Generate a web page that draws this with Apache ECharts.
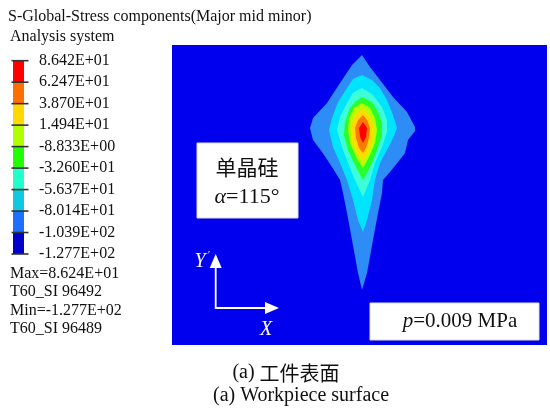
<!DOCTYPE html>
<html><head><meta charset="utf-8">
<script src="https://cdn.jsdelivr.net/npm/echarts@6/dist/echarts.min.js"></script>
<style>html,body{margin:0;padding:0;background:#fff}#c{width:550px;height:414px}</style>
</head><body><div id="c"></div>
<script>
// Legend tick labels (top to bottom)
const tickLabels = ['8.642E+01','6.247E+01','3.870E+01','1.494E+01','-8.833E+00','-3.260E+01','-5.637E+01','-8.014E+01','-1.039E+02','-1.277E+02'];
// Legend band colours (top to bottom)
const bandColors = ['#ff0000','#ff6e00','#ffd800','#b0ff00','#22ff00','#22ffc8','#10c8e0','#1e6eff','#0000c8'];
// Contour fill colours, outermost to innermost
const contourColors = ['#2d8cf5','#00e4ff','#3cffd8','#28ff28','#b8ff00','#ffdc00','#ff7800','#ff0000'];
const backgroundColor = '#0000ee';
// Contour boundaries (x across, y down; domain 0..375 x 0..300)
const cLightBlue = [[190,10],[198,22],[208,35],[221,52],[235,67],[243,82],[243,86],[236,95],[233,108],[226,117],[218,127],[211,135],[210,148],[206,168],[201,195],[195,228],[190,245],[186,228],[180,195],[175,168],[171,148],[168,135],[160,122],[150,107],[141,95],[138,83],[141,73],[155,58],[168,38],[180,20]];
const cCyan = [[190,30],[200,35],[208,43],[215,55],[221,70],[225,83],[221,93],[215,105],[208,118],[203,135],[200,155],[195,175],[191,187],[186,175],[181,155],[175,135],[168,118],[161,102],[157,85],[160,73],[166,57],[175,43],[181,34]];
const cAqua = [[190,43],[201,50],[210,62],[215,75],[215,87],[210,102],[203,118],[198,135],[191,152],[183,135],[176,118],[170,102],[165,85],[168,72],[175,58],[181,48]];
const cGreen = [[190,52],[200,57],[206,67],[210,78],[210,90],[205,105],[198,122],[191,135],[184,122],[176,105],[172,90],[173,77],[178,63],[183,57]];
const cYellowGreen = [[190,58],[198,63],[203,73],[205,85],[203,98],[197,112],[191,123],[184,112],[178,98],[176,85],[177,73],[182,63]];
const cYellow = [[190,63],[196,69],[201,78],[202,88],[199,100],[195,110],[191,116],[186,110],[181,100],[179,88],[180,78],[184,69]];
const cOrange = [[191,70],[195,75],[198,83],[197,93],[194,103],[191,108],[187,103],[184,93],[183,83],[186,75]];
const cRed = [[191,77],[195,83],[194,92],[191,98],[188,92],[187,83]];
const contours = [cLightBlue,cCyan,cAqua,cGreen,cYellowGreen,cYellow,cOrange,cRed];

const serif = '"Liberation Serif","Times New Roman",serif';
const cjk = '"Noto Sans CJK SC",sans-serif';
const chart = echarts.init(document.getElementById('c'));

function txt(x, y, text, size, extra) {
  return Object.assign({type:'text', x:x, y:y, style:Object.assign({text:text, font:size+'px '+serif, fill:'#111', textVerticalAlign:'middle'}, extra||{})});
}

chart.setOption({
  animation:false,
  grid:[
    {left:172, top:45, width:375, height:300, show:true, backgroundColor:backgroundColor, borderWidth:0},
    {left:13, top:60.7, width:11, height:193.3, show:false}
  ],
  xAxis:[
    {type:'value', min:0, max:375, show:false, gridIndex:0},
    {type:'value', min:0, max:1, show:false, gridIndex:1}
  ],
  yAxis:[
    {type:'value', min:0, max:300, inverse:true, show:false, gridIndex:0},
    {type:'value', min:0, max:9, interval:1, inverse:true, gridIndex:1, position:'right',
     axisLine:{show:false}, axisTick:{show:false}, splitLine:{show:false},
     axisLabel:{show:true, margin:15, color:'#111', fontSize:16, fontFamily:serif,
       showMinLabel:true, showMaxLabel:true, formatter:v => tickLabels[v] || ''}}
  ],
  series:[
    {type:'custom', xAxisIndex:0, yAxisIndex:0, clip:false,
     data:contours.map((c,i)=>[i]),
     renderItem:(params, api) => {
       const i = api.value(0);
       return {type:'polygon', shape:{points:contours[i].map(p=>api.coord(p))}, style:{fill:contourColors[i]}};
     }},
    {type:'custom', xAxisIndex:1, yAxisIndex:1, clip:false,
     data:bandColors.map((c,i)=>[i]),
     renderItem:(params, api) => {
       const i = api.value(0);
       const a = api.coord([0,i]), b = api.coord([1,i+1]);
       return {type:'rect', shape:{x:a[0], y:a[1], width:b[0]-a[0], height:b[1]-a[1]}, style:{fill:bandColors[i]}};
     }},
    {type:'custom', xAxisIndex:1, yAxisIndex:1, clip:false, z:5,
     data:tickLabels.map((c,i)=>[i]),
     renderItem:(params, api) => {
       const i = api.value(0);
       const a = api.coord([0,i]), b = api.coord([1,i]);
       return {type:'line', shape:{x1:a[0]-1.5, y1:a[1], x2:b[0]+4.5, y2:b[1]}, style:{stroke:'#333', lineWidth:1.6}};
     }}
  ],
  graphic:[
    txt(8, 17, 'S-Global-Stress components(Major mid minor)', 16),
    txt(10, 37, 'Analysis system', 16),
    txt(10, 274, 'Max=8.624E+01', 16),
    txt(10, 292, 'T60_SI 96492', 16),
    txt(10, 311, 'Min=-1.277E+02', 16),
    txt(10, 329, 'T60_SI 96489', 16),
    // annotation boxes
    {type:'rect', shape:{x:197, y:143, width:101, height:75}, style:{fill:'#fff', stroke:'#ddd', lineWidth:1}, z:10},
    {type:'text', x:247, y:167, z:11, style:{text:'单晶硅', font:'21px '+cjk, fill:'#111', textAlign:'center', textVerticalAlign:'middle'}},
    {type:'text', x:247, y:197, z:11, style:{rich:{i:{fontFamily:serif, fontStyle:'italic', fontSize:22, fill:'#111'}, n:{fontFamily:serif, fontSize:22, fill:'#111'}}, text:'{i|α}{n|=115°}', textAlign:'center', textVerticalAlign:'middle'}},
    {type:'rect', shape:{x:370, y:303, width:169, height:37}, style:{fill:'#fff', stroke:'#ddd', lineWidth:1}, z:10},
    {type:'text', x:460, y:321, z:11, style:{rich:{i:{fontFamily:serif, fontStyle:'italic', fontSize:21, fill:'#111'}, n:{fontFamily:serif, fontSize:21, fill:'#111'}}, text:'{i|p}{n|=0.009 MPa}', textAlign:'center', textVerticalAlign:'middle'}},
    // coordinate arrows
    {type:'polyline', z:10, shape:{points:[[215.7,265],[215.7,308],[268,308]]}, style:{stroke:'#fff', lineWidth:1.8, fill:null}},
    {type:'polygon', z:10, shape:{points:[[215.7,254],[209.7,268],[221.7,268]]}, style:{fill:'#fff'}},
    {type:'polygon', z:10, shape:{points:[[279,308],[265,302],[265,314]]}, style:{fill:'#fff'}},
    {type:'text', x:200, y:262, z:11, style:{text:'Y', font:'italic 20px '+serif, fill:'#fff', textAlign:'center', textVerticalAlign:'middle'}},
    {type:'text', x:209, y:255, z:11, style:{text:'\u2032', font:'10px '+serif, fill:'#fff', textAlign:'center', textVerticalAlign:'middle'}},
    {type:'text', x:266, y:330, z:11, style:{text:'X', font:'italic 20px '+serif, fill:'#fff', textAlign:'center', textVerticalAlign:'middle'}},
    // captions
    {type:'text', x:286, y:373, style:{rich:{n:{fontFamily:serif, fontSize:20, fill:'#111'}, c:{fontFamily:cjk, fontSize:20, fill:'#111'}}, text:'{n|(a) }{c|工件表面}', textAlign:'center', textVerticalAlign:'middle'}},
    {type:'text', x:301, y:396, style:{text:'(a) Workpiece surface', font:'20px '+serif, fill:'#111', textAlign:'center', textVerticalAlign:'middle'}}
  ]
});
</script></body></html>
